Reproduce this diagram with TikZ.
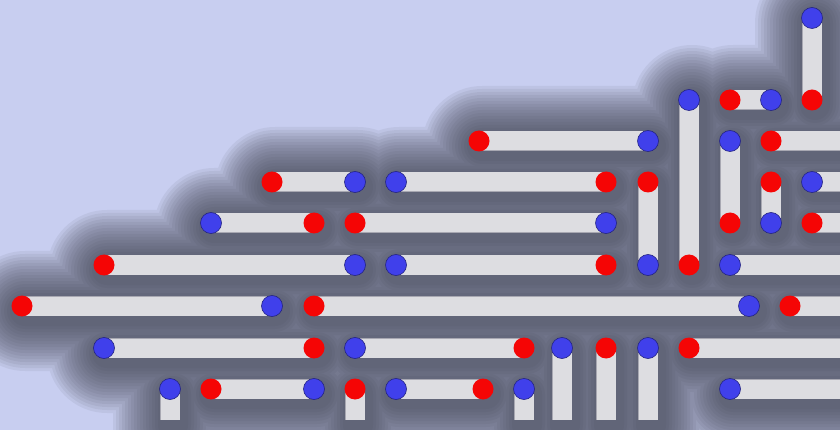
\documentclass[tikz,border=0pt]{standalone}
\usepackage{tikz}
\definecolor{bglav}{RGB}{200,206,240}
\definecolor{shadowgray}{RGB}{62,64,78}
\definecolor{rodgray}{RGB}{221,221,225}
\definecolor{rodedge}{RGB}{168,168,178}
\definecolor{dotred}{RGB}{245,5,5}
\definecolor{dotblue}{RGB}{64,64,235}
\tikzset{
  rodbody/.style={line width=19pt, rodgray},
  rodrim/.style={line width=20.5pt, rodedge},
  rodshade/.style={line cap=round, shadowgray},
  reddot/.style={fill=dotred},
  bluedot/.style={fill=dotblue, draw=dotblue!55!black, line width=0.6pt},
}
% rods as x1/y1/x2/y2 (pixels, y down)
\newcommand{\rodlist}{812/18/812/100, 689/100/689/265, 648/182/648/265,
  730/141/730/223, 771/182/771/223,
  170/389/170/420, 355/389/355/420, 524/389/524/420,
  562/348/562/420, 606/348/606/420, 648/348/648/420,
  730/100/771/100, 479/141/648/141, 771/141/860/141,
  272/182/355/182, 396/182/606/182, 812/182/860/182,
  211/223/314/223, 355/223/606/223, 812/223/860/223,
  104/265/355/265, 396/265/606/265, 730/265/860/265,
  22/306/272/306, 314/306/749/306, 790/306/860/306,
  104/348/314/348, 355/348/524/348, 689/348/860/348,
  211/389/314/389, 396/389/483/389, 730/389/860/389}
% end points as x/y/colour
\newcommand{\dotlist}{812/18/blue, 812/100/red, 689/100/blue, 730/100/red, 771/100/blue,
  479/141/red, 648/141/blue, 730/141/blue, 771/141/red,
  272/182/red, 355/182/blue, 396/182/blue, 606/182/red, 648/182/red, 771/182/red, 812/182/blue,
  211/223/blue, 314/223/red, 355/223/red, 606/223/blue, 730/223/red, 771/223/blue, 812/223/red,
  104/265/red, 355/265/blue, 396/265/blue, 606/265/red, 648/265/blue, 689/265/red, 730/265/blue,
  22/306/red, 272/306/blue, 314/306/red, 749/306/blue, 790/306/red,
  104/348/blue, 314/348/red, 355/348/blue, 524/348/red, 562/348/blue, 606/348/red, 648/348/blue, 689/348/red,
  170/389/blue, 211/389/red, 314/389/blue, 355/389/red, 396/389/blue, 483/389/red, 524/389/blue, 730/389/blue}

\begin{document}
\begin{tikzpicture}[x=1pt, y=-1pt]
    % Background
    \fill[bglav] (0,0) rectangle (840,430);
    \useasboundingbox (0,0) rectangle (840,430);
    \clip (0,0) rectangle (840,430);

    % Soft shadow, built up in layers
    \foreach \w in {120,114,...,30} {
        \begin{scope}[transparency group, opacity=0.075, shift={(3,5)}]
            \foreach \xa/\ya/\xb/\yb in \rodlist
                \draw[rodshade, line width=\w pt] (\xa,\ya) -- (\xb,\yb);
        \end{scope}
    }

    % Rods
    \foreach \xa/\ya/\xb/\yb in \rodlist
        \draw[rodrim] (\xa,\ya) -- (\xb,\yb);
    \foreach \xa/\ya/\xb/\yb in \rodlist
        \draw[rodbody] (\xa,\ya) -- (\xb,\yb);

    % End points
    \foreach \x/\y/\c in \dotlist
        \path[\c dot] (\x,\y) circle (10.5);
\end{tikzpicture}
\end{document}
